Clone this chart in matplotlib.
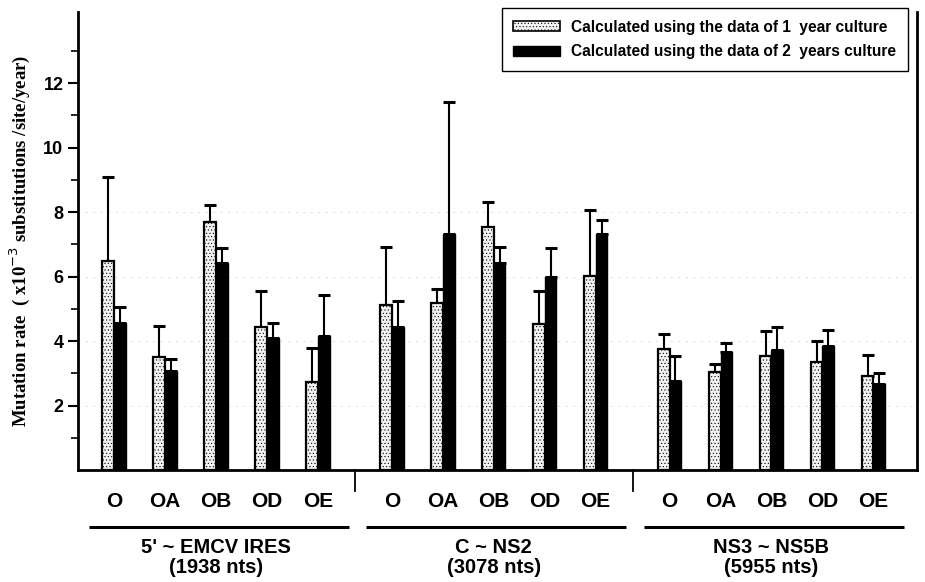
import numpy as np
import matplotlib.pyplot as plt
from matplotlib.patches import Patch
from matplotlib.transforms import blended_transform_factory

# data (mean and upper SD)
region_names = ["5' ~ EMCV IRES", "C ~ NS2", "NS3 ~ NS5B"]
region_sizes = ["(1938 nts)", "(3078 nts)", "(5955 nts)"]
clones = ["O", "OA", "OB", "OD", "OE"]

yr1_mean = [[6.48, 3.50, 7.71, 4.44, 2.75],
            [5.12, 5.19, 7.53, 4.53, 6.01],
            [3.76, 3.06, 3.55, 3.36, 2.93]]
yr1_sd = [[2.62, 0.98, 0.51, 1.11, 1.03],
          [1.79, 0.44, 0.80, 1.02, 2.07],
          [0.45, 0.22, 0.76, 0.64, 0.64]]
yr2_mean = [[4.57, 3.08, 6.44, 4.11, 4.17],
            [4.44, 7.32, 6.43, 5.99, 7.31],
            [2.77, 3.67, 3.74, 3.85, 2.68]]
yr2_sd = [[0.49, 0.38, 0.44, 0.47, 1.25],
          [0.81, 4.09, 0.48, 0.89, 0.45],
          [0.77, 0.26, 0.70, 0.49, 0.34]]

sans = ['Liberation Sans Narrow', 'Liberation Sans', 'DejaVu Sans']
serif = ['Liberation Serif', 'DejaVu Serif']
plt.rcParams['hatch.linewidth'] = 0.4

fig = plt.figure(figsize=(9.25, 5.82), dpi=100)
ax = fig.add_axes([0.0843, 0.192, 0.9067, 0.787])

gstep = 5.45
w = 0.23
xs_all = []
for g in range(3):
    x = np.arange(5) + g * gstep
    xs_all.extend(x)
    m1 = np.array(yr1_mean[g]); s1 = np.array(yr1_sd[g])
    m2 = np.array(yr2_mean[g]); s2 = np.array(yr2_sd[g])
    ax.bar(x - w / 2, m1, w, facecolor='#f2f2f2', edgecolor='black',
           linewidth=1.6, hatch='.....', zorder=3)
    ax.bar(x + w / 2, m2, w, facecolor='black', edgecolor='black',
           linewidth=1.0, zorder=3)
    ax.errorbar(x - w / 2, m1, yerr=[np.zeros(5), s1], fmt='none',
                ecolor='black', elinewidth=1.5, capsize=4.5, capthick=2.2, zorder=2)
    ax.errorbar(x + w / 2, m2, yerr=[np.zeros(5), s2], fmt='none',
                ecolor='black', elinewidth=1.5, capsize=4.5, capthick=2.2, zorder=2)

ax.set_xlim(-0.71, 15.75)
ax.set_ylim(0, 14.2)

# faint scan-like gridlines
for yv in [2, 4, 6, 8]:
    ax.axhline(yv, color='#d0d0d0', lw=0.6, ls=(0, (2, 7)), zorder=0)

ax.set_xticks(xs_all)
ax.set_xticklabels(clones * 3, fontsize=15, fontweight='bold', family=sans)
ax.tick_params(axis='x', length=0, pad=16)

ax.set_yticks([2, 4, 6, 8, 10, 12])
ax.set_yticks([1, 3, 5, 7, 9, 11, 13], minor=True)
ax.set_yticklabels(['2', '4', '6', '8', '10', '12'], fontsize=13,
                   fontweight='bold', family=sans)
ax.tick_params(axis='y', which='major', length=7, width=1.5, direction='out')
ax.tick_params(axis='y', which='minor', length=5, width=1.2, direction='out')

ax.spines['top'].set_visible(False)
for s in ['left', 'bottom', 'right']:
    ax.spines[s].set_linewidth(2)

ax.set_ylabel('Mutation rate  ( x10$^{-3}$ substitutions /site/year)',
              fontsize=13.5, fontweight='bold', family=serif, labelpad=8)

trans = blended_transform_factory(ax.transData, ax.transAxes)
# group separators below the axis
for g in range(1, 3):
    xsep = g * gstep - (gstep - 4) / 2
    ax.plot([xsep, xsep], [0, -0.045], color='black', lw=1.3,
            transform=trans, clip_on=False)
# group underlines and names
for g in range(3):
    x0 = g * gstep
    ax.plot([x0 - 0.5, x0 + 4.6], [-0.124, -0.124], color='black', lw=2.2,
            transform=trans, clip_on=False, solid_capstyle='butt')
    ax.text(x0 + 2.0, -0.168, region_names[g], transform=trans, ha='center',
            va='center', fontsize=14.5, fontweight='bold', family=sans)
    ax.text(x0 + 2.0, -0.212, region_sizes[g], transform=trans, ha='center',
            va='center', fontsize=14.5, fontweight='bold', family=sans)

handles = [Patch(facecolor='#f2f2f2', edgecolor='black', hatch='.....', lw=1.2),
           Patch(facecolor='black', edgecolor='black')]
leg = ax.legend(handles, ['Calculated using the data of 1  year culture',
                          'Calculated using the data of 2  years culture'],
                loc='upper right', bbox_to_anchor=(0.9893, 1.009),
                prop={'family': sans, 'weight': 'bold', 'size': 11.2},
                handlelength=3.0, handleheight=0.6, handletextpad=0.7,
                fancybox=False, edgecolor='black', framealpha=1,
                borderpad=0.75, labelspacing=0.6, borderaxespad=0)
leg.get_frame().set_linewidth(1.0)

fig.savefig('out.png', dpi=100)
